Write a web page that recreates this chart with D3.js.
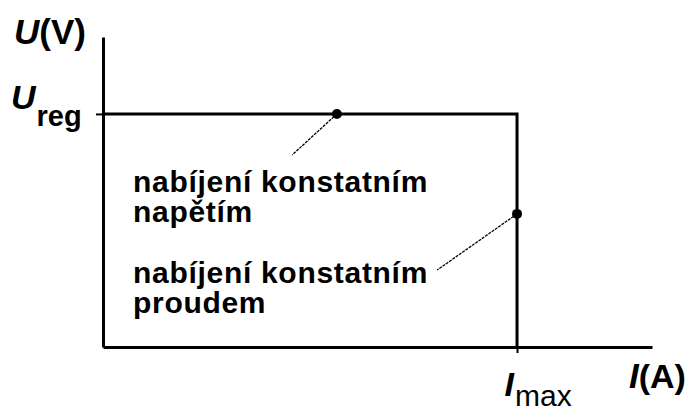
<!DOCTYPE html>
<html>
<head>
<meta charset="utf-8">
<script src="https://cdn.jsdelivr.net/npm/d3@7"></script>
<style>
  html, body { margin: 0; padding: 0; background: #fff; }
  svg { display: block; }
  text { font-family: "Liberation Sans", Arial, sans-serif; fill: #000; }
</style>
</head>
<body>
<svg id="chart" width="688" height="413"></svg>
<script>
// ---- data ----
const Ureg = 1;            // regulated voltage (normalised)
const Imax = 1;            // maximum current (normalised)
const xMax = 1.326;        // end of current axis
const yMax = 1.33;         // end of voltage axis
const curveI = [0, Imax, Imax];   // characteristic: current
const curveU = [Ureg, Ureg, 0];   // characteristic: voltage
const pointI = [0.565, Imax];     // marked points (current)
const pointU = [Ureg, 0.571];     // marked points (voltage)
const leaderI = [0.457, 0.807];   // leader line ends (current)
const leaderU = [0.824, 0.330];   // leader line ends (voltage)
const labelLines = [["nabíjení konstatním", "napětím"], ["nabíjení konstatním", "proudem"]];
const xTick = { value: Imax, main: "I", sub: "max" };
const yTick = { value: Ureg, main: "U", sub: "reg" };
const xTitle = { main: "I", unit: "(A)" };
const yTitle = { main: "U", unit: "(V)" };

// ---- layout ----
const svg = d3.select("#chart");
const x = d3.scaleLinear().domain([0, xMax]).range([103, 652]);
const y = d3.scaleLinear().domain([0, yMax]).range([347, 37]);

// axes
const xAxis = svg.append("g").attr("transform", `translate(0,${y(0)})`)
  .call(d3.axisBottom(x).tickValues([xTick.value]).tickSize(6).tickSizeOuter(0).tickFormat(() => ""));
const yAxis = svg.append("g").attr("transform", `translate(${x(0)},0)`)
  .call(d3.axisLeft(y).tickValues([yTick.value]).tickSize(7).tickSizeOuter(0).tickFormat(() => ""));
[xAxis, yAxis].forEach(a => {
  a.select(".domain").attr("stroke", "#000").attr("stroke-width", 3);
  a.selectAll(".tick line").attr("stroke", "#000").attr("stroke-width", 2);
  a.selectAll(".tick text").remove();
});

// tick labels with subscripts
const yt = yAxis.select(".tick").append("text").attr("x", -92).attr("y", -5).attr("text-anchor", "start");
yt.append("tspan").text(yTick.main).attr("font-style", "italic").attr("font-weight", "bold").attr("font-size", 34);
yt.append("tspan").text(yTick.sub).attr("font-weight", "bold").attr("font-size", 29).attr("dy", 17).attr("dx", 1);

const xt = xAxis.select(".tick").append("text").attr("x", -13).attr("y", 49).attr("text-anchor", "start");
xt.append("tspan").text(xTick.main).attr("font-style", "italic").attr("font-weight", "bold").attr("font-size", 34);
xt.append("tspan").text(xTick.sub).attr("font-size", 30).attr("dy", 10).attr("dx", 1);

// axis titles
const ytl = svg.append("text").attr("x", 14).attr("y", 44);
ytl.append("tspan").text(yTitle.main).attr("font-style", "italic").attr("font-weight", "bold").attr("font-size", 35);
ytl.append("tspan").text(yTitle.unit).attr("font-weight", "bold").attr("font-size", 35);
const xtl = svg.append("text").attr("x", 629).attr("y", 388);
xtl.append("tspan").text(xTitle.main).attr("font-style", "italic").attr("font-weight", "bold").attr("font-size", 35);
xtl.append("tspan").text(xTitle.unit).attr("font-weight", "bold").attr("font-size", 34);

// characteristic
const line = d3.line().x((d, i) => x(curveI[i])).y((d, i) => y(curveU[i]));
svg.append("path").datum(curveI).attr("d", line)
  .attr("fill", "none").attr("stroke", "#000").attr("stroke-width", 3).attr("stroke-linejoin", "miter");

// leader lines
svg.selectAll("line.leader").data(pointI).enter().append("line").attr("class", "leader")
  .attr("x1", (d, i) => x(pointI[i])).attr("y1", (d, i) => y(pointU[i]))
  .attr("x2", (d, i) => x(leaderI[i])).attr("y2", (d, i) => y(leaderU[i]))
  .attr("stroke", "#000").attr("stroke-width", 1.3).attr("stroke-dasharray", "3,1");

// points
svg.selectAll("circle.pt").data(pointI).enter().append("circle").attr("class", "pt")
  .attr("cx", (d, i) => x(pointI[i])).attr("cy", (d, i) => y(pointU[i])).attr("r", 5).attr("fill", "#000");

// annotation text
const baselines = [[192, 222], [283, 313]];
labelLines.forEach((lines, gi) => {
  lines.forEach((s, li) => {
    svg.append("text").attr("x", 133).attr("y", baselines[gi][li])
      .attr("font-size", 30).attr("font-weight", "bold").attr("letter-spacing", 0.7).text(s);
  });
});
</script>
</body>
</html>
